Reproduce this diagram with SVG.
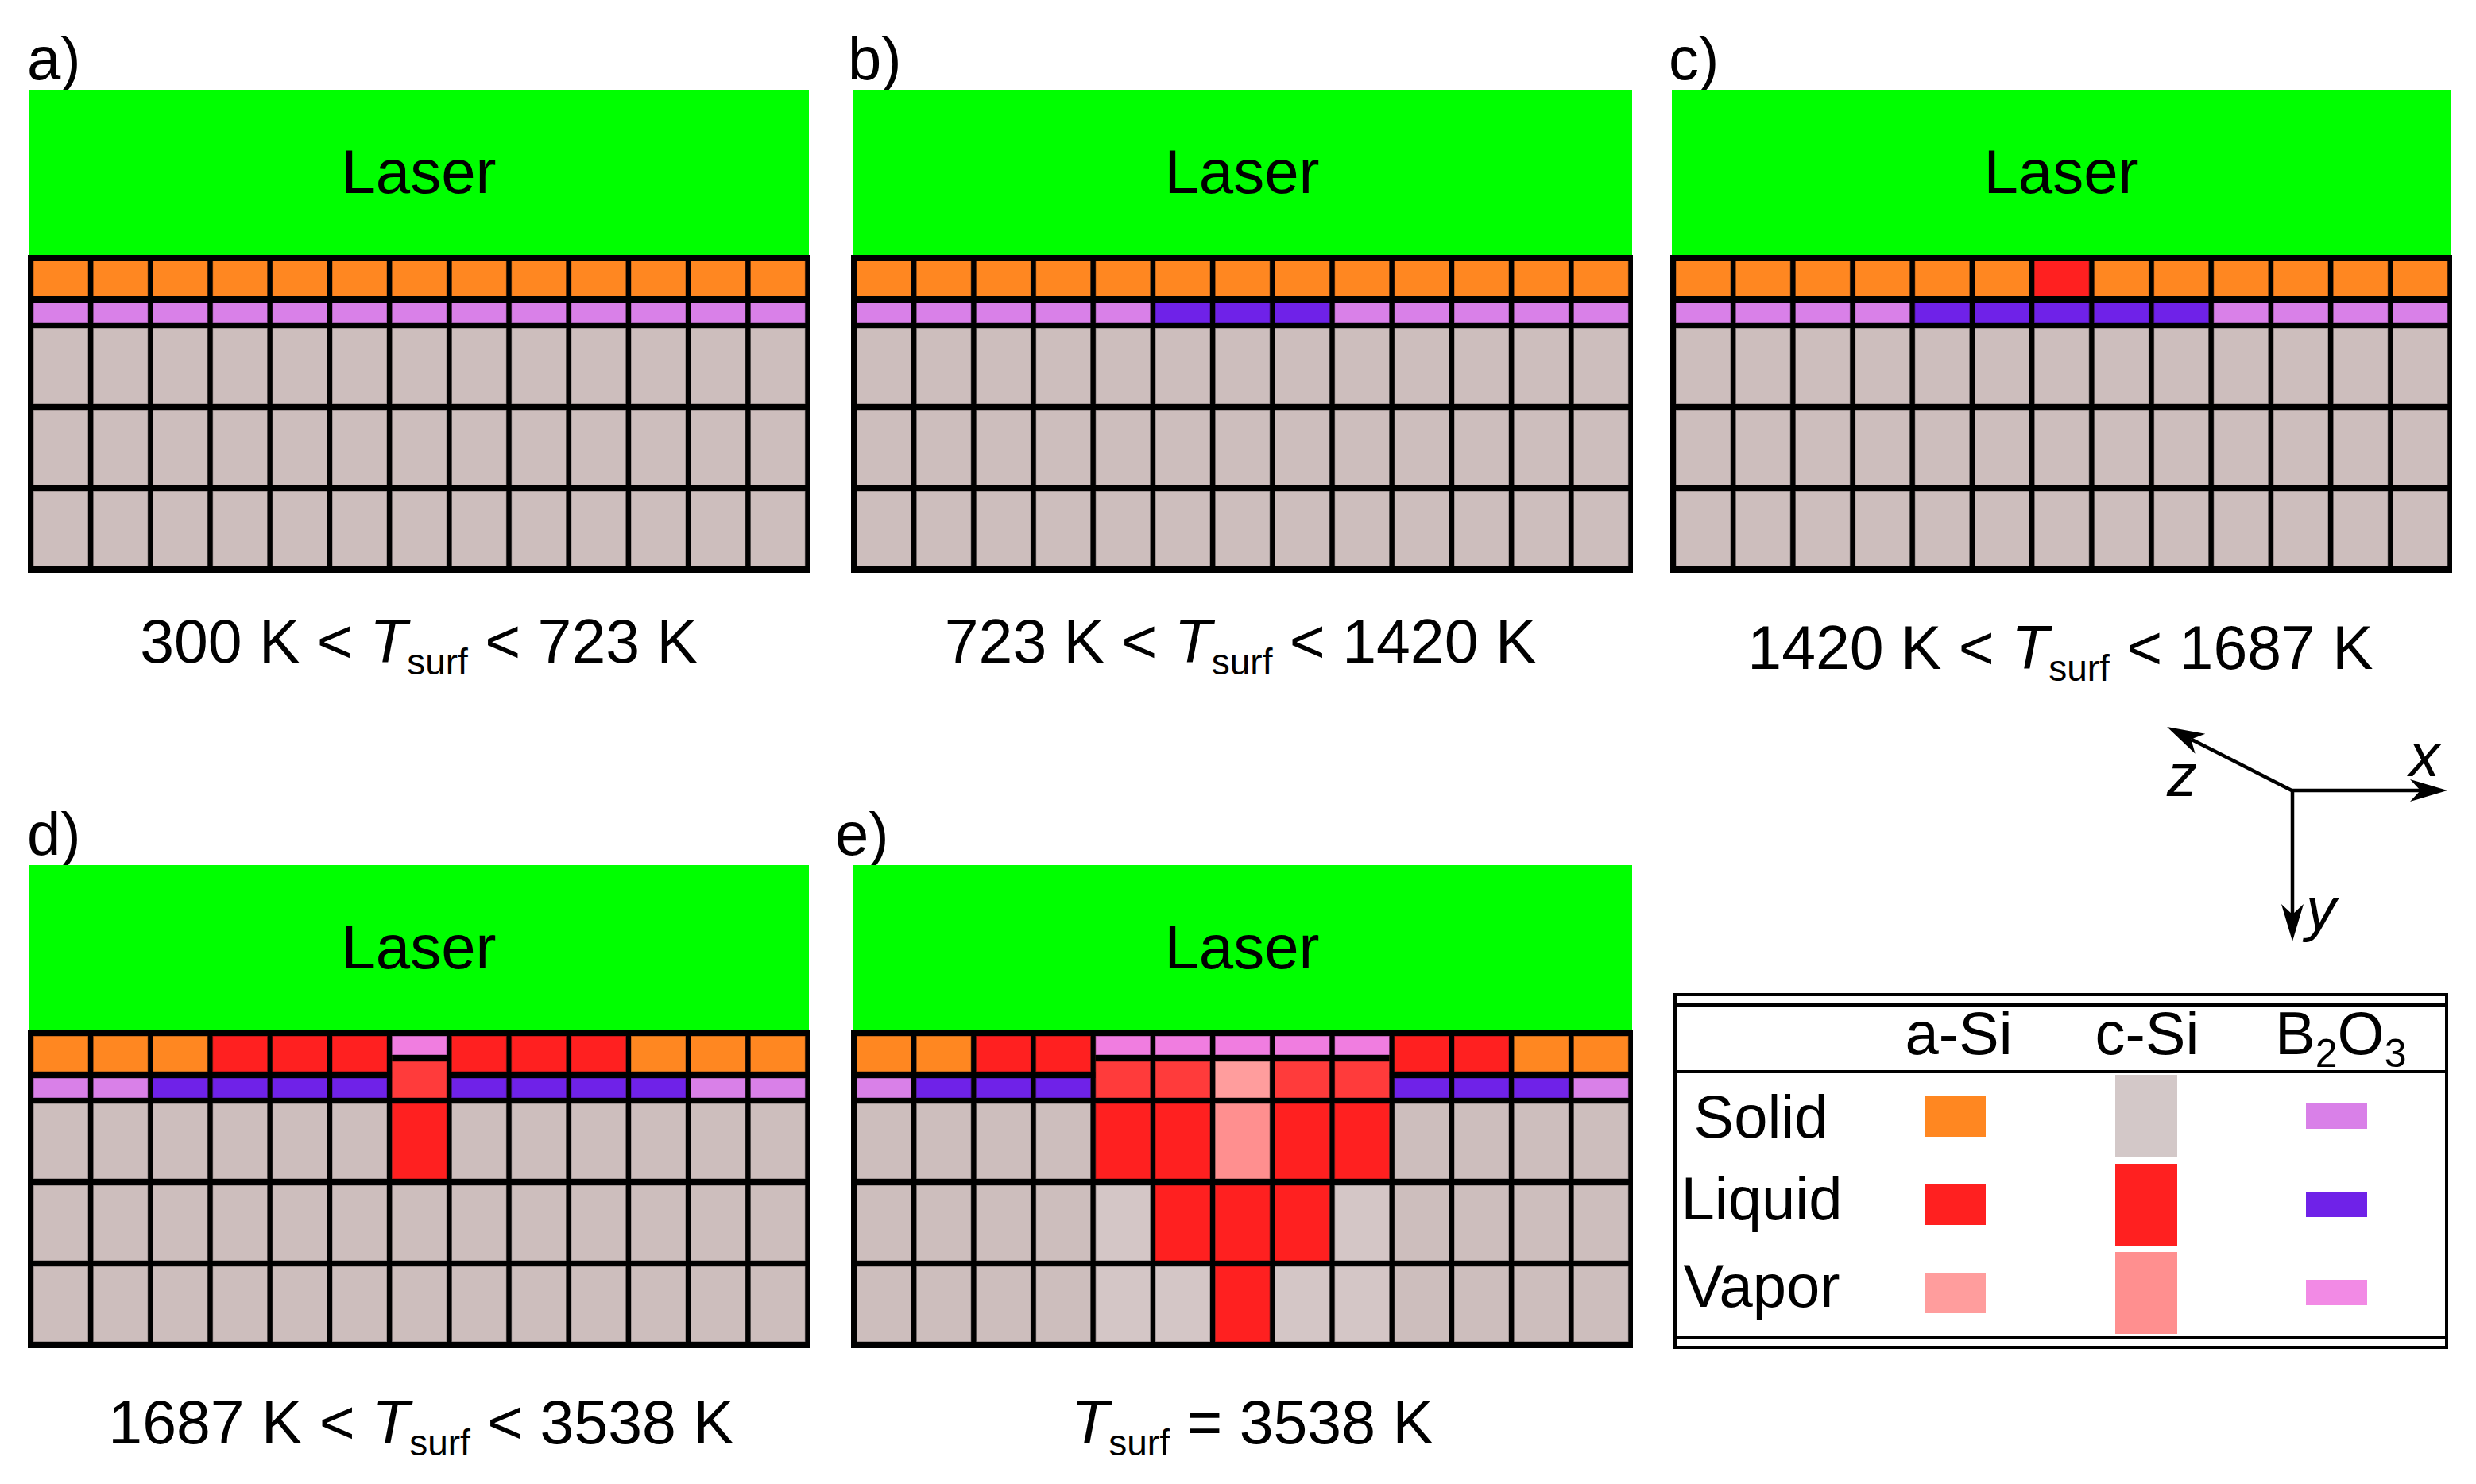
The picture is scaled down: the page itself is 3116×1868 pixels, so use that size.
<svg xmlns="http://www.w3.org/2000/svg" xmlns:xlink="http://www.w3.org/1999/xlink" width="3116" height="1868" viewBox="0 0 3116 1868">
<style>
text{font-family:"Liberation Sans",Arial,Helvetica,sans-serif;fill:#000}
.lab{font-size:76px}
.cap{font-size:77px;text-anchor:middle}
.laser{font-size:78px;text-anchor:middle}
.leg{font-size:76px}
.c{stroke:#000;stroke-opacity:.35;stroke-width:1.2}
.asi{fill:#ff8721}
.b2o3{fill:#d980e8}
.csi{fill:#cdbebd}
.csil{fill:#d4c6c6}
.liq{fill:#ff2020}
.liq2{fill:#ff3b3b}
.bliq{fill:#6f22e8}
.avap{fill:#ff9d9d}
.cvap{fill:#ff8f8f}
.bvap{fill:#f07de0}
.laserbox{fill:#00ff00}
.ax{stroke:#000;stroke-width:4.5;fill:none}
.rule{stroke:#000;stroke-width:4;fill:none}
</style>
<defs>
<marker id="arr" markerUnits="userSpaceOnUse" viewBox="-15 -16 52 32" refX="0" refY="0" markerWidth="52" markerHeight="32" orient="auto" overflow="visible">
<path d="M34,0 L-13,-14 L0,0 L-13,14 Z" fill="#000"/>
</marker>
<g id="rowA">
<rect class="c asi" x="7" y="7" width="69" height="45"/><rect class="c asi" x="82.2" y="7" width="69" height="45"/><rect class="c asi" x="157.4" y="7" width="69" height="45"/><rect class="c asi" x="232.6" y="7" width="69" height="45"/><rect class="c asi" x="307.8" y="7" width="69" height="45"/><rect class="c asi" x="383" y="7" width="69" height="45"/><rect class="c asi" x="458.2" y="7" width="69" height="45"/><rect class="c asi" x="533.4" y="7" width="69" height="45"/><rect class="c asi" x="608.6" y="7" width="69" height="45"/><rect class="c asi" x="683.8" y="7" width="69" height="45"/><rect class="c asi" x="759" y="7" width="69" height="45"/><rect class="c asi" x="834.2" y="7" width="69" height="45"/><rect class="c asi" x="909.4" y="7" width="69" height="45"/>
</g>
<g id="rowB">
<rect class="c b2o3" x="7" y="60" width="69" height="25"/><rect class="c b2o3" x="82.2" y="60" width="69" height="25"/><rect class="c b2o3" x="157.4" y="60" width="69" height="25"/><rect class="c b2o3" x="232.6" y="60" width="69" height="25"/><rect class="c b2o3" x="307.8" y="60" width="69" height="25"/><rect class="c b2o3" x="383" y="60" width="69" height="25"/><rect class="c b2o3" x="458.2" y="60" width="69" height="25"/><rect class="c b2o3" x="533.4" y="60" width="69" height="25"/><rect class="c b2o3" x="608.6" y="60" width="69" height="25"/><rect class="c b2o3" x="683.8" y="60" width="69" height="25"/><rect class="c b2o3" x="759" y="60" width="69" height="25"/><rect class="c b2o3" x="834.2" y="60" width="69" height="25"/><rect class="c b2o3" x="909.4" y="60" width="69" height="25"/>
</g>
<g id="rowC">
<rect class="c csi" x="7" y="0" width="69" height="95"/><rect class="c csi" x="82.2" y="0" width="69" height="95"/><rect class="c csi" x="157.4" y="0" width="69" height="95"/><rect class="c csi" x="232.6" y="0" width="69" height="95"/><rect class="c csi" x="307.8" y="0" width="69" height="95"/><rect class="c csi" x="383" y="0" width="69" height="95"/><rect class="c csi" x="458.2" y="0" width="69" height="95"/><rect class="c csi" x="533.4" y="0" width="69" height="95"/><rect class="c csi" x="608.6" y="0" width="69" height="95"/><rect class="c csi" x="683.8" y="0" width="69" height="95"/><rect class="c csi" x="759" y="0" width="69" height="95"/><rect class="c csi" x="834.2" y="0" width="69" height="95"/><rect class="c csi" x="909.4" y="0" width="69" height="95"/>
</g>
<g id="base">
<rect x="2" y="-208" width="981" height="208" class="laserbox"/>
<rect x="0" y="0" width="984" height="400" fill="#000"/>
<use xlink:href="#rowA"/>
<use xlink:href="#rowB"/>
<use xlink:href="#rowC" transform="translate(0,92)"/>
<use xlink:href="#rowC" transform="translate(0,195)"/>
<use xlink:href="#rowC" transform="translate(0,297)"/>
<text class="laser" x="492" y="-78">Laser</text>
</g>
</defs>
<rect width="3116" height="1868" fill="#fff"/>

<g id="panel-a">
<text class="lab" x="34" y="100">a)</text>
<g transform="translate(35,321)"><use xlink:href="#base"/></g>
<text class="cap" x="527" y="834">300 K &lt; <tspan font-style="italic">T</tspan><tspan font-size="46" dy="15">surf</tspan><tspan dy="-15"> &lt; 723 K</tspan></text>
</g>

<g id="panel-b">
<text class="lab" x="1067" y="100">b)</text>
<g transform="translate(1071,321)">
<use xlink:href="#base"/>
<rect class="c bliq" x="383" y="60" width="69" height="25"/><rect class="c bliq" x="458.2" y="60" width="69" height="25"/><rect class="c bliq" x="533.4" y="60" width="69" height="25"/>
</g>
<text class="cap" x="1561" y="834">723 K &lt; <tspan font-style="italic">T</tspan><tspan font-size="46" dy="15">surf</tspan><tspan dy="-15"> &lt; 1420 K</tspan></text>
</g>

<g id="panel-c">
<text class="lab" x="2100" y="100">c)</text>
<g transform="translate(2102,321)">
<use xlink:href="#base"/>
<rect class="c liq" x="458.2" y="7" width="69" height="45"/>
<rect class="c bliq" x="307.8" y="60" width="69" height="25"/><rect class="c bliq" x="383" y="60" width="69" height="25"/><rect class="c bliq" x="458.2" y="60" width="69" height="25"/><rect class="c bliq" x="533.4" y="60" width="69" height="25"/><rect class="c bliq" x="608.6" y="60" width="69" height="25"/>
</g>
<text class="cap" x="2593" y="842">1420 K &lt; <tspan font-style="italic">T</tspan><tspan font-size="46" dy="15">surf</tspan><tspan dy="-15"> &lt; 1687 K</tspan></text>
</g>

<g id="panel-d">
<text class="lab" x="34" y="1076">d)</text>
<g transform="translate(35,1297)">
<use xlink:href="#base"/>
<rect class="c liq" x="232.6" y="7" width="69" height="45"/><rect class="c liq" x="307.8" y="7" width="69" height="45"/><rect class="c liq" x="383" y="7" width="69" height="45"/>
<rect class="c liq" x="533.4" y="7" width="69" height="45"/><rect class="c liq" x="608.6" y="7" width="69" height="45"/><rect class="c liq" x="683.8" y="7" width="69" height="45"/>
<rect class="c bliq" x="157.4" y="60" width="69" height="25"/><rect class="c bliq" x="232.6" y="60" width="69" height="25"/><rect class="c bliq" x="307.8" y="60" width="69" height="25"/><rect class="c bliq" x="383" y="60" width="69" height="25"/>
<rect class="c bliq" x="533.4" y="60" width="69" height="25"/><rect class="c bliq" x="608.6" y="60" width="69" height="25"/><rect class="c bliq" x="683.8" y="60" width="69" height="25"/><rect class="c bliq" x="759" y="60" width="69" height="25"/>
<rect x="458.2" y="7" width="69" height="78" fill="#000"/>
<rect class="c bvap" x="458.2" y="7" width="69" height="24"/>
<rect class="c liq2" x="458.2" y="39" width="69" height="46"/>
<rect class="c liq" x="458.2" y="92" width="69" height="95"/>
</g>
<text class="cap" x="530" y="1817">1687 K &lt; <tspan font-style="italic">T</tspan><tspan font-size="46" dy="15">surf</tspan><tspan dy="-15"> &lt; 3538 K</tspan></text>
</g>

<g id="panel-e">
<text class="lab" x="1051" y="1076">e)</text>
<g transform="translate(1071,1297)">
<use xlink:href="#base"/>
<rect class="c liq" x="157.4" y="7" width="69" height="45"/><rect class="c liq" x="232.6" y="7" width="69" height="45"/>
<rect class="c liq" x="683.8" y="7" width="69" height="45"/><rect class="c liq" x="759" y="7" width="69" height="45"/>
<rect class="c bliq" x="82.2" y="60" width="69" height="25"/><rect class="c bliq" x="157.4" y="60" width="69" height="25"/><rect class="c bliq" x="232.6" y="60" width="69" height="25"/>
<rect class="c bliq" x="683.8" y="60" width="69" height="25"/><rect class="c bliq" x="759" y="60" width="69" height="25"/><rect class="c bliq" x="834.2" y="60" width="69" height="25"/>
<rect x="307.8" y="7" width="369.8" height="78" fill="#000"/>
<rect class="c bvap" x="307.8" y="7" width="69" height="24"/><rect class="c bvap" x="383" y="7" width="69" height="24"/><rect class="c bvap" x="458.2" y="7" width="69" height="24"/><rect class="c bvap" x="533.4" y="7" width="69" height="24"/><rect class="c bvap" x="608.6" y="7" width="69" height="24"/>
<rect class="c liq2" x="307.8" y="39" width="69" height="46"/><rect class="c liq2" x="383" y="39" width="69" height="46"/><rect class="c avap" x="458.2" y="39" width="69" height="46"/><rect class="c liq2" x="533.4" y="39" width="69" height="46"/><rect class="c liq2" x="608.6" y="39" width="69" height="46"/>
<rect class="c liq" x="307.8" y="92" width="69" height="95"/><rect class="c liq" x="383" y="92" width="69" height="95"/><rect class="c cvap" x="458.2" y="92" width="69" height="95"/><rect class="c liq" x="533.4" y="92" width="69" height="95"/><rect class="c liq" x="608.6" y="92" width="69" height="95"/>
<rect class="c csil" x="307.8" y="195" width="69" height="95"/><rect class="c liq" x="383" y="195" width="69" height="95"/><rect class="c liq" x="458.2" y="195" width="69" height="95"/><rect class="c liq" x="533.4" y="195" width="69" height="95"/><rect class="c csil" x="608.6" y="195" width="69" height="95"/>
<rect class="c csil" x="307.8" y="297" width="69" height="95"/><rect class="c csil" x="383" y="297" width="69" height="95"/><rect class="c liq" x="458.2" y="297" width="69" height="95"/><rect class="c csil" x="533.4" y="297" width="69" height="95"/><rect class="c csil" x="608.6" y="297" width="69" height="95"/>
</g>
<text class="cap" x="1576" y="1817"><tspan font-style="italic">T</tspan><tspan font-size="46" dy="15">surf</tspan><tspan dy="-15"> = 3538 K</tspan></text>
</g>

<g id="axes">
<text class="leg" x="3032" y="977" font-style="italic">x</text>
<text class="leg" x="2727" y="1002" font-style="italic">z</text>
<text class="leg" x="2902" y="1170" font-style="italic">y</text>
</g>

<g id="legend">
<line class="rule" x1="2108" y1="1252" x2="3079" y2="1252" stroke-width="3.5"/>
<line class="rule" x1="2108" y1="1265" x2="3079" y2="1265"/>
<line class="rule" x1="2108" y1="1349" x2="3079" y2="1349"/>
<line class="rule" x1="2108" y1="1684" x2="3079" y2="1684"/>
<line class="rule" x1="2108" y1="1696" x2="3079" y2="1696" stroke-width="3.5"/>
<line class="rule" x1="2108" y1="1250" x2="2108" y2="1698"/>
<line class="rule" x1="3079" y1="1250" x2="3079" y2="1698"/>
<text class="leg" x="2465" y="1327" text-anchor="middle">a-Si</text>
<text class="leg" x="2702" y="1327" text-anchor="middle">c-Si</text>
<text class="leg" x="2863" y="1327">B<tspan font-size="50" dy="16">2</tspan><tspan dy="-16">O</tspan><tspan font-size="50" dy="16">3</tspan></text>
<text class="leg" x="2216" y="1432" text-anchor="middle">Solid</text>
<text class="leg" x="2217" y="1535" text-anchor="middle">Liquid</text>
<text class="leg" x="2217" y="1645" text-anchor="middle">Vapor</text>
<rect class="asi" x="2422" y="1379" width="77" height="52"/>
<rect class="liq" x="2422" y="1491" width="77" height="51"/>
<rect class="avap" x="2422" y="1602" width="77" height="51"/>
<rect fill="#d3c8c8" x="2662" y="1353" width="78" height="104"/>
<rect class="liq" x="2662" y="1465" width="78" height="103"/>
<rect class="cvap" x="2662" y="1576" width="78" height="103"/>
<rect class="b2o3" x="2902" y="1389" width="77" height="32"/>
<rect class="bliq" x="2902" y="1500" width="77" height="32"/>
<rect fill="#f28ae5" x="2902" y="1611" width="77" height="32"/>
</g>

<g id="connectors">
<line class="ax" x1="2885" y1="995" x2="3046" y2="995" marker-end="url(#arr)"/>
<line class="ax" x1="2885" y1="993" x2="2885" y2="1151" marker-end="url(#arr)"/>
<line class="ax" x1="2886" y1="996" x2="2757.4" y2="930.4" marker-end="url(#arr)"/>
</g>
</svg>
